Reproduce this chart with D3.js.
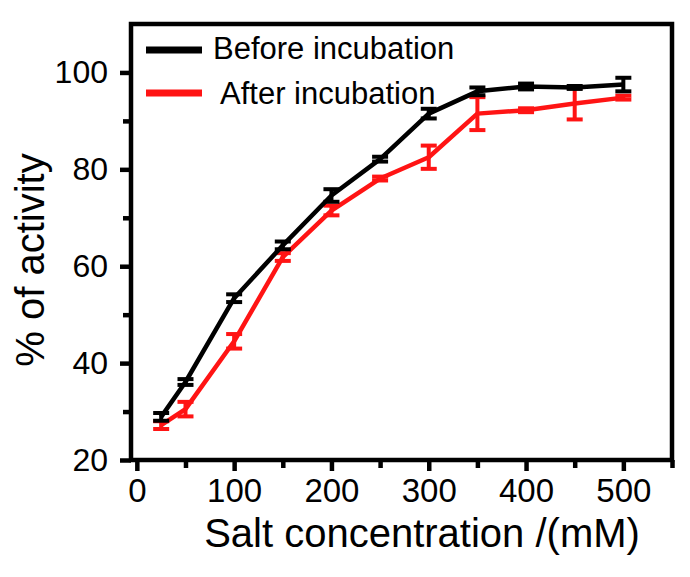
<!DOCTYPE html>
<html>
<head>
<meta charset="utf-8">
<script src="https://cdn.jsdelivr.net/npm/d3@7"></script>
<style>
  html, body { margin: 0; padding: 0; background: #fff; }
  svg { display: block; font-family: "Liberation Sans", Arial, sans-serif; }
</style>
</head>
<body>
<div id="chart"></div>
<script>
const salt = [25, 50, 100, 150, 200, 250, 300, 350, 400, 450, 500];
const before = [28.9, 36.1, 53.4, 64.3, 74.6, 82.1, 91.5, 96.1, 97.1, 96.9, 97.5];
const beforeErr = [0.8, 0.6, 0.8, 0.8, 1.3, 0.5, 1.0, 0.8, 0.6, 0.3, 1.4];
const after = [27.2, 30.5, 44.5, 61.9, 71.5, 78.1, 82.5, 91.5, 92.2, 93.6, 94.8];
const afterErr = [0.8, 1.5, 1.5, 0.8, 1.0, 0.4, 2.4, 3.4, 0.4, 3.3, 0.4];
const xMajor = [0, 100, 200, 300, 400, 500];
const xMinor = [50, 150, 250, 350, 450, 550];
const yMajor = [20, 40, 60, 80, 100];
const yMinor = [30, 50, 70, 90];
const seriesNames = ["Before incubation", "After incubation"];
const colors = ["#000000", "#ff1414"];

const width = 690, height = 577;
const plotLeft = 131, plotRight = 672, plotTop = 24, plotBottom = 460;

const x = d3.scaleLinear().domain([-6, 550]).range([plotLeft, plotRight]);
const y = d3.scaleLinear().domain([20, 110]).range([plotBottom, plotTop]);

const svg = d3.select("#chart").append("svg")
  .attr("width", width)
  .attr("height", height)
  .attr("viewBox", [0, 0, width, height]);

function styleAxis(g) {
  g.attr("font-family", "'Liberation Sans', Arial, sans-serif");
  g.select(".domain").remove();
  g.selectAll(".tick line").attr("stroke", "#000").attr("stroke-width", 4.5);
  g.selectAll(".tick text").attr("fill", "#000").style("font-size", "33px");
}

// x axis
svg.append("g")
  .attr("transform", `translate(0,${plotBottom})`)
  .call(d3.axisBottom(x).tickValues(xMajor).tickSize(11).tickPadding(8).tickFormat(d3.format("d")))
  .call(styleAxis);
svg.append("g")
  .attr("transform", `translate(0,${plotBottom})`)
  .call(d3.axisBottom(x).tickValues(xMinor).tickSize(8).tickFormat(""))
  .call(styleAxis);

// y axis
svg.append("g")
  .attr("transform", `translate(${plotLeft},0)`)
  .call(d3.axisLeft(y).tickValues(yMajor).tickSize(11).tickPadding(12).tickFormat(d3.format("d")))
  .call(styleAxis)
  .selectAll(".tick text").style("font-size", "32px");
svg.append("g")
  .attr("transform", `translate(${plotLeft},0)`)
  .call(d3.axisLeft(y).tickValues(yMinor).tickSize(8).tickFormat(""))
  .call(styleAxis);

// frame
svg.append("rect")
  .attr("x", plotLeft).attr("y", plotTop)
  .attr("width", plotRight - plotLeft).attr("height", plotBottom - plotTop)
  .attr("fill", "none").attr("stroke", "#000").attr("stroke-width", 4.5);

const line = d3.line()
  .x((d, i) => x(salt[i]))
  .y(d => y(d));

const series = [
  { vals: after, err: afterErr, color: colors[1] },
  { vals: before, err: beforeErr, color: colors[0] }
];

series.forEach(s => {
  const g = svg.append("g");
  g.append("path")
    .datum(s.vals)
    .attr("fill", "none")
    .attr("stroke", s.color)
    .attr("stroke-width", 4.5)
    .attr("stroke-linejoin", "round")
    .attr("d", line);

  const eb = g.selectAll(".eb")
    .data(s.vals)
    .join("g")
    .attr("stroke", s.color)
    .attr("stroke-width", 4);
  eb.append("line")
    .attr("x1", (d, i) => x(salt[i])).attr("x2", (d, i) => x(salt[i]))
    .attr("y1", (d, i) => y(d - s.err[i])).attr("y2", (d, i) => y(d + s.err[i]));
  eb.append("line")
    .attr("x1", (d, i) => x(salt[i]) - 8).attr("x2", (d, i) => x(salt[i]) + 8)
    .attr("y1", (d, i) => y(d - s.err[i])).attr("y2", (d, i) => y(d - s.err[i]));
  eb.append("line")
    .attr("x1", (d, i) => x(salt[i]) - 8).attr("x2", (d, i) => x(salt[i]) + 8)
    .attr("y1", (d, i) => y(d + s.err[i])).attr("y2", (d, i) => y(d + s.err[i]));
});

// legend
const legend = svg.append("g");
const legendRows = [
  { name: seriesNames[0], color: colors[0], ly: 50, tx: 213, ty: 59 },
  { name: seriesNames[1], color: colors[1], ly: 93, tx: 220, ty: 104 }
];
legendRows.forEach(r => {
  legend.append("line")
    .attr("x1", 146).attr("x2", 202)
    .attr("y1", r.ly).attr("y2", r.ly)
    .attr("stroke", r.color).attr("stroke-width", 7);
  legend.append("text")
    .attr("x", r.tx).attr("y", r.ty)
    .style("font-size", "31px")
    .attr("fill", "#000")
    .text(r.name);
});

// axis titles
svg.append("text")
  .attr("x", 422).attr("y", 547)
  .attr("text-anchor", "middle")
  .style("font-size", "40px")
  .text("Salt concentration /(mM)");

svg.append("text")
  .attr("transform", "translate(44,260) rotate(-90)")
  .attr("text-anchor", "middle")
  .style("font-size", "40px")
  .text("% of activity");
</script>
</body>
</html>
